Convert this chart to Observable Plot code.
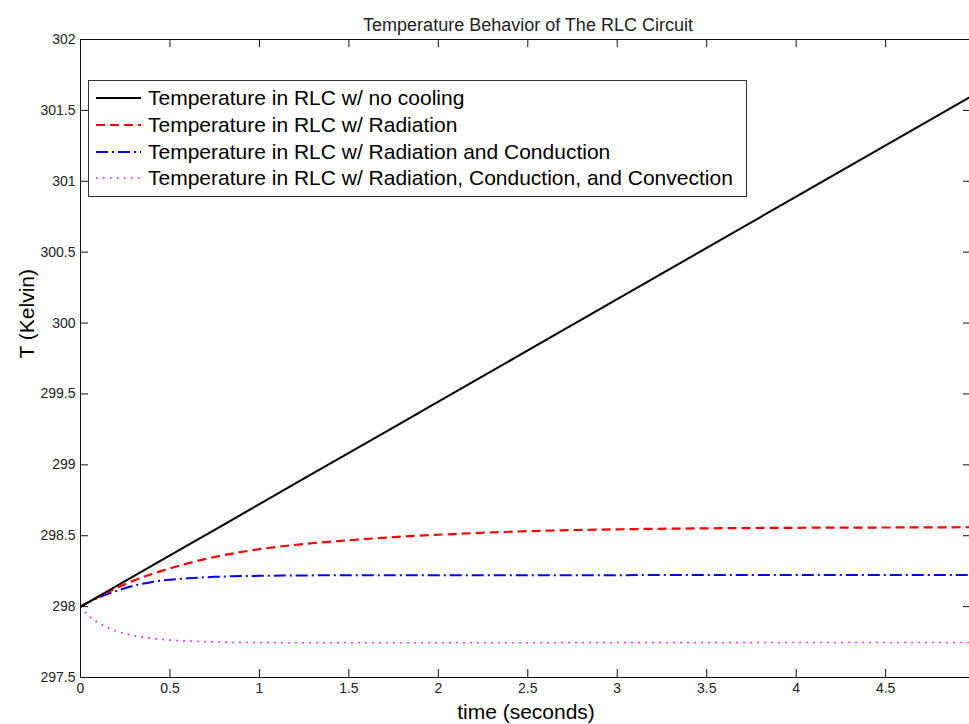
<!DOCTYPE html>
<html><head><meta charset="utf-8">
<script src="https://cdn.jsdelivr.net/npm/d3@7"></script>
<script src="https://cdn.jsdelivr.net/npm/@observablehq/plot@0.6"></script>
<style>
html,body{margin:0;padding:0;background:#fff;overflow:hidden;}
#wrap{position:relative;width:969px;height:724px;overflow:hidden;}
#legend{position:absolute;left:88px;top:80px;width:657px;height:110.7px;padding-top:4px;border:1px solid #333;background:#fff;font-family:"Liberation Sans",Arial,sans-serif;font-size:21px;color:#000;}
.row{height:26.7px;display:flex;align-items:center;white-space:nowrap;}
.row svg{margin-left:7px;margin-right:7px;flex:none;}
</style></head><body><div id="wrap"><div id="legend"></div></div>
<script>
const chartTitle = "Temperature Behavior of The RLC Circuit";
const xLabel = "time (seconds)";
const yLabel = "T (Kelvin)";
const time        = [0, 0.05, 0.1, 0.15, 0.2, 0.3, 0.4, 0.5, 0.6, 0.75, 1, 1.25, 1.5, 1.75, 2, 2.5, 3, 3.5, 4, 4.5, 4.98];
const noCooling   = [298, 298.036, 298.072, 298.108, 298.145, 298.217, 298.289, 298.361, 298.434, 298.542, 298.723, 298.904, 299.084, 299.265, 299.446, 299.807, 300.169, 300.53, 300.892, 301.253, 301.6];
const radiation   = [298, 298.035, 298.068, 298.1, 298.13, 298.185, 298.23, 298.27, 298.305, 298.35, 298.405, 298.442, 298.468, 298.49, 298.507, 298.532, 298.545, 298.552, 298.556, 298.558, 298.56];
const radCond     = [298, 298.033, 298.062, 298.088, 298.11, 298.148, 298.174, 298.19, 298.2, 298.21, 298.217, 298.22, 298.221, 298.221, 298.222, 298.222, 298.222, 298.223, 298.223, 298.223, 298.223];
const radCondConv = [298, 297.93, 297.885, 297.852, 297.827, 297.795, 297.776, 297.764, 297.757, 297.751, 297.746, 297.745, 297.745, 297.745, 297.745, 297.745, 297.746, 297.746, 297.747, 297.747, 297.747];
const seriesNames = [
  "Temperature in RLC w/ no cooling",
  "Temperature in RLC w/ Radiation",
  "Temperature in RLC w/ Radiation and Conduction",
  "Temperature in RLC w/ Radiation, Conduction, and Convection"
];
const seriesColors = ["#000000", "#ff0000", "#0000ff", "#ff00ff"];
const seriesDash = [null, "9,5", "12,4,2,4", "1.5,5.5"];
const seriesWidth = [2, 2.2, 2, 1.7];
const xTicks = [0, 0.5, 1, 1.5, 2, 2.5, 3, 3.5, 4, 4.5];
const yTicks = [297.5, 298, 298.5, 299, 299.5, 300, 300.5, 301, 301.5, 302];

const allSeries = [noCooling, radiation, radCond, radCondConv];
const W = 975, H = 724, mL = 80, mR = 4, mT = 39, mB = 47;
const pw = W - mL - mR, ph = H - mT - mB;
const font = '"Liberation Sans", Arial, sans-serif';

const lineMarks = allSeries.map((vals, k) =>
  Plot.line(time.map((t, i) => ({t, T: vals[i]})), {
    x: "t", y: "T", stroke: seriesColors[k], strokeWidth: seriesWidth[k],
    strokeDasharray: seriesDash[k], curve: k === 0 ? "linear" : "monotone-x", strokeLinecap: "butt"
  })
);

const chart = Plot.plot({
  width: W, height: H,
  marginLeft: mL, marginRight: mR, marginTop: mT, marginBottom: mB,
  x: {domain: [0, 4.98]},
  y: {domain: [297.5, 302]},
  style: {fontFamily: font, fontSize: "14px", color: "#222", background: "#fff", overflow: "visible"},
  marks: [
    ...lineMarks.reverse(),
    Plot.frame({stroke: "#111", strokeWidth: 1}),
    Plot.tickX(xTicks, {x: d => d, insetTop: ph - 8, stroke: "#111"}),
    Plot.tickX(xTicks, {x: d => d, insetBottom: ph - 8, stroke: "#111"}),
    Plot.tickY(yTicks, {y: d => d, insetRight: pw - 8, stroke: "#111"}),
    Plot.tickY(yTicks, {y: d => d, insetLeft: pw - 8, stroke: "#111"}),
    Plot.axisX(xTicks, {tickSize: 0, tickPadding: 6, tickFormat: d => String(d), label: null, fill: "#222"}),
    Plot.axisY(yTicks, {tickSize: 0, tickPadding: 5, tickFormat: d => String(d), label: null, fill: "#222"}),
    Plot.text([chartTitle], {text: d => d, frameAnchor: "top", lineAnchor: "bottom", dy: -9, dx: 2, fontSize: 18, fill: "#222"}),
    Plot.text([xLabel], {text: d => d, frameAnchor: "bottom", lineAnchor: "bottom", dy: 41, fontSize: 21, fill: "#000"}),
    Plot.text([yLabel], {text: d => d, frameAnchor: "left", lineAnchor: "bottom", rotate: -90, dx: -47, fontSize: 21, fill: "#000"})
  ]
});
chart.style.position = "absolute";
chart.style.left = "0px";
chart.style.top = "0px";
chart.style.maxWidth = "none";
chart.style.width = W + "px";
chart.style.height = H + "px";
const wrap = document.getElementById("wrap");
wrap.insertBefore(chart, wrap.firstChild);

const legend = document.getElementById("legend");
seriesNames.forEach((name, k) => {
  const row = document.createElement("div");
  row.className = "row";
  const dash = seriesDash[k] ? ` stroke-dasharray="${seriesDash[k]}"` : "";
  row.innerHTML = `<svg width="45" height="10"><line x1="0" y1="5" x2="45" y2="5" stroke="${seriesColors[k]}" stroke-width="${seriesWidth[k]}"${dash}/></svg><span>${name}</span>`;
  legend.appendChild(row);
});
</script>
</body></html>
